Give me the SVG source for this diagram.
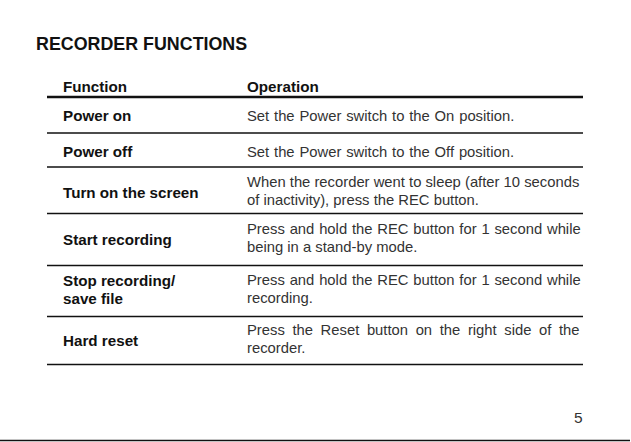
<svg xmlns="http://www.w3.org/2000/svg" width="631" height="442" viewBox="0 0 631 442">
<style>
.t{font-family:"Liberation Sans",Arial,sans-serif;font-size:17.85px;font-weight:bold;fill:#111}
.h{font-family:"Liberation Sans",Arial,sans-serif;font-size:15.2px;font-weight:bold;fill:#111}
.b{font-family:"Liberation Sans",Arial,sans-serif;font-size:15.2px;font-weight:bold;fill:#111}
.r{font-family:"Liberation Sans",Arial,sans-serif;font-size:14.8px;fill:#333}
.rule{stroke:#111;stroke-width:1.3}
.thick{stroke:#111;stroke-width:2.6}
</style>
<rect width="631" height="442" fill="#fff"/>
<text class="t" x="36" y="50">RECORDER FUNCTIONS</text>
<g id="header">
<text class="h" x="63" y="92">Function</text>
<text class="h" x="247" y="92">Operation</text>
</g>
<g id="rules">
<line class="thick" x1="47" y1="97" x2="583" y2="97"/>
<line class="rule" x1="47" y1="133" x2="583" y2="133"/>
<line class="rule" x1="47" y1="167" x2="583" y2="167"/>
<line class="rule" x1="47" y1="213.5" x2="583" y2="213.5"/>
<line class="rule" x1="47" y1="265.5" x2="583" y2="265.5"/>
<line class="rule" x1="47" y1="316.5" x2="583" y2="316.5"/>
<line class="rule" x1="47" y1="364.5" x2="583" y2="364.5"/>
<line x1="0" y1="440.5" x2="630" y2="440.5" stroke="#111" stroke-width="1.6"/>
</g>
<g id="row-power-on">
<text class="b" x="63" y="121">Power on</text>
<text class="r" x="247" y="121" word-spacing="0.7">Set the Power switch to the On position.</text>
</g>
<g id="row-power-off">
<text class="b" x="63" y="157">Power off</text>
<text class="r" x="247" y="157" word-spacing="0.7">Set the Power switch to the Off position.</text>
</g>
<g id="row-screen">
<text class="b" x="63" y="198">Turn on the screen</text>
<text class="r" x="247" y="187">When the recorder went to sleep (after 10 seconds</text>
<text class="r" x="247" y="205">of inactivity), press the REC button.</text>
</g>
<g id="row-start">
<text class="b" x="63" y="245">Start recording</text>
<text class="r" x="247" y="234" word-spacing="0.7">Press and hold the REC button for 1 second while</text>
<text class="r" x="247" y="252">being in a stand-by mode.</text>
</g>
<g id="row-stop">
<text class="b" x="63" y="286">Stop recording/</text>
<text class="b" x="63" y="304">save file</text>
<text class="r" x="247" y="285" word-spacing="0.7">Press and hold the REC button for 1 second while</text>
<text class="r" x="247" y="303">recording.</text>
</g>
<g id="row-reset">
<text class="b" x="63" y="346">Hard reset</text>
<text class="r" x="247" y="335" word-spacing="3.5">Press the Reset button on the right side of the</text>
<text class="r" x="247" y="353">recorder.</text>
</g>
<text class="r" x="574" y="423" style="font-size:15.5px">5</text>
</svg>
